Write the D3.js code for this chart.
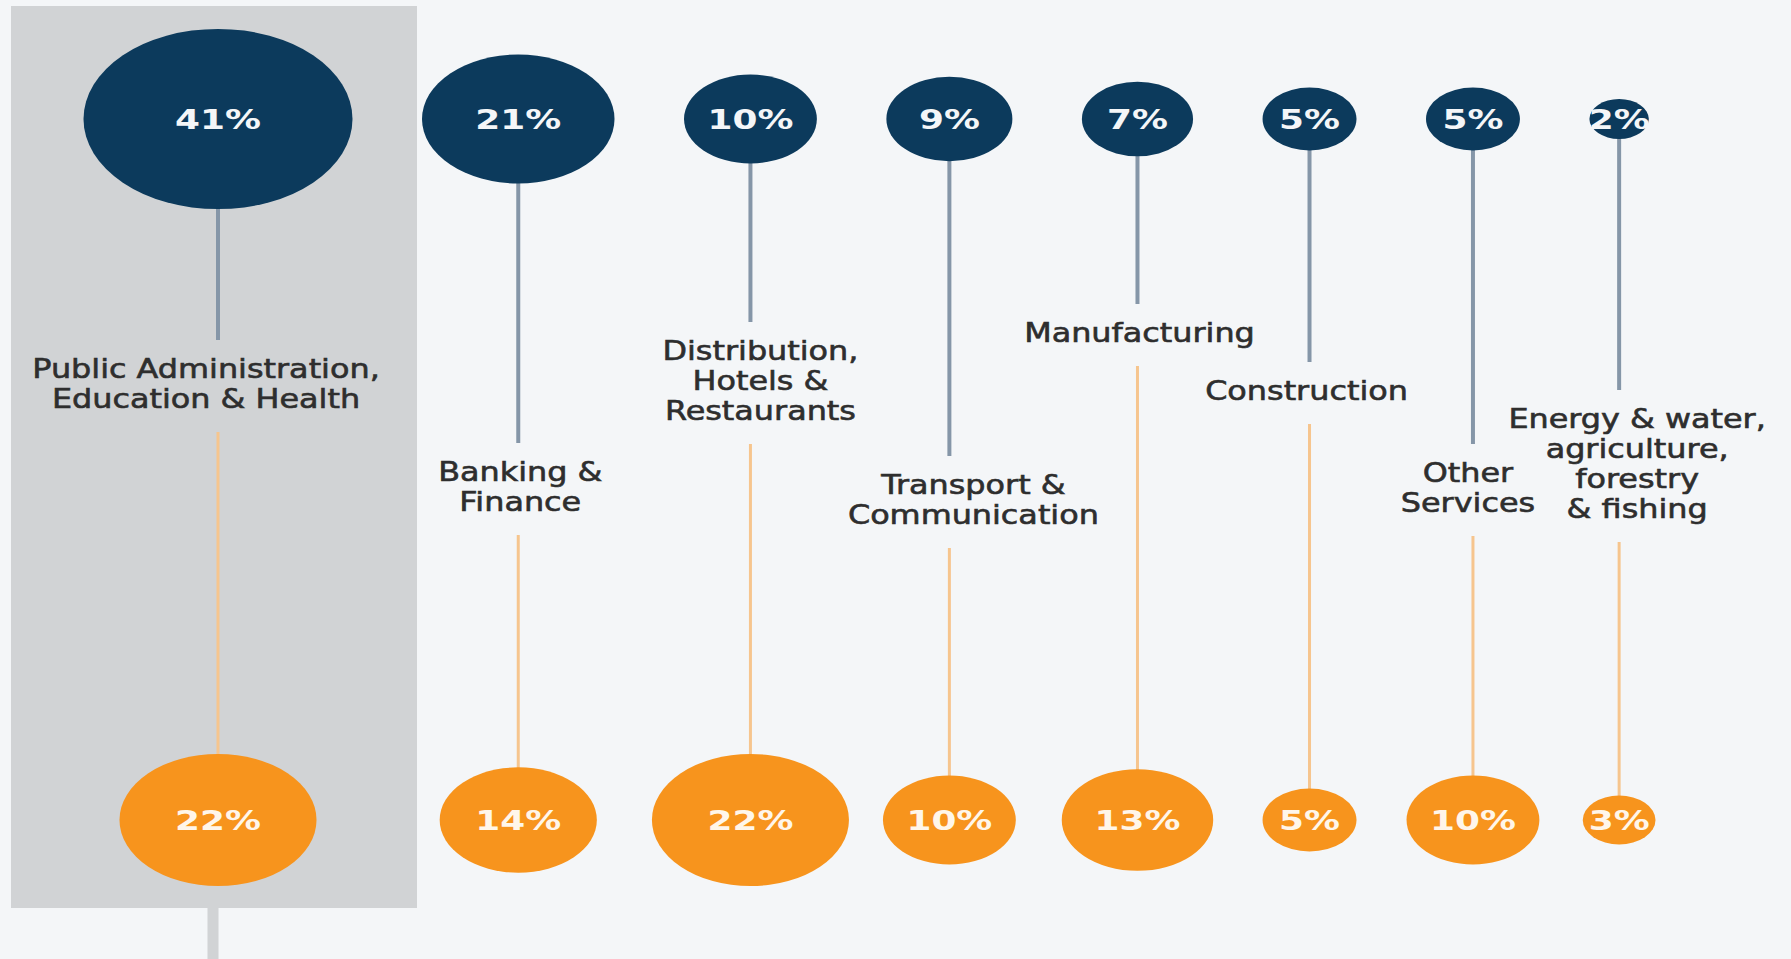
<!DOCTYPE html>
<html>
<head>
<meta charset="utf-8">
<script src="https://d3js.org/d3.v7.min.js"></script>
<style>
html, body { margin: 0; padding: 0; background: #f4f6f8; overflow: hidden; }
.chart { width: 1791px; height: 959px; }
</style>
</head>
<body>
<div class="chart"></div>
<script>
// sectors, top row (navy) and bottom row (orange) shares in %
var sectors = [
	["Public Administration,", "Education & Health"],
	["Banking &", "Finance"],
	["Distribution,", "Hotels &", "Restaurants"],
	["Transport &", "Communication"],
	["Manufacturing"],
	["Construction"],
	["Other", "Services"],
	["Energy & water,", "agriculture,", "forestry", "& fishing"]
];
var topShare = [41, 21, 10, 9, 7, 5, 5, 2];
var bottomShare = [22, 14, 22, 10, 13, 5, 10, 3];

// layout: staggered label rows (y of first line centre) and small x nudges
var labelRow = [368, 471, 350, 484, 332, 390, 472, 418];
var labelNudge = [-12, 2, 10, 24, 2, -3, -5, 18];

var W = 1791, H = 959;
var topY = 119, bottomY = 820;
var aspect = 0.67;      // bubbles are squashed ellipses
var gap = 69.5;         // horizontal space between top bubbles
var lineH = 30;
var stretch = 1.18;     // the labels are drawn wide

var r = d3.scaleSqrt().domain([0, 41]).range([0, 134.5]);

// x positions: top bubbles packed side by side
var xs = [];
topShare.forEach(function(v, i){
	if (i == 0) xs.push(218);
	else xs.push(xs[i-1] + r(topShare[i-1]) + gap + r(v));
});

var data = sectors.map(function(s, i){
	return {lines: s, top: topShare[i], bottom: bottomShare[i], x: xs[i],
		ly: labelRow[i], lx: xs[i] + labelNudge[i]};
});

var svg = d3.select(".chart")
	.append("svg")
	.attr("width", W)
	.attr("height", H);

svg.append("rect")
	.attr("width", W).attr("height", H)
	.attr("fill", "#f4f6f8");

// highlight panel for the first sector
svg.append("rect")
	.attr("x", 11).attr("y", 6)
	.attr("width", 406).attr("height", 902)
	.attr("fill", "#d1d3d5");
svg.append("line")
	.attr("x1", 213).attr("x2", 213)
	.attr("y1", 908).attr("y2", H)
	.attr("stroke", "#d1d3d5")
	.attr("stroke-width", 11);

var col = svg.selectAll("g.col")
	.data(data)
	.enter()
	.append("g")
	.attr("class", "col");

// stems
col.append("line")
	.attr("x1", function(d){ return d.x; })
	.attr("x2", function(d){ return d.x; })
	.attr("y1", topY)
	.attr("y2", function(d){ return d.ly - 28; })
	.attr("stroke", "#8596a8")
	.attr("stroke-width", 4);
col.append("line")
	.attr("x1", function(d){ return d.x; })
	.attr("x2", function(d){ return d.x; })
	.attr("y1", function(d){ return d.ly + (d.lines.length - 1) * lineH + 34; })
	.attr("y2", bottomY)
	.attr("stroke", "#f6c58e")
	.attr("stroke-width", 3);

// bubbles
col.append("ellipse")
	.attr("cx", function(d){ return d.x; })
	.attr("cy", topY)
	.attr("rx", function(d){ return r(d.top); })
	.attr("ry", function(d){ return r(d.top) * aspect; })
	.attr("fill", "#0c3a5c");
col.append("ellipse")
	.attr("cx", function(d){ return d.x; })
	.attr("cy", bottomY)
	.attr("rx", function(d){ return r(d.bottom); })
	.attr("ry", function(d){ return r(d.bottom) * aspect; })
	.attr("fill", "#f7941d");

// percentages
col.append("text")
	.attr("transform", function(d){ return "translate(" + d.x + "," + (topY + 10) + ") scale(1.33,1)"; })
	.text(function(d){ return d.top + "%"; })
	.style("font-family", "'DejaVu Sans', Verdana, sans-serif")
	.style("font-weight", "bold")
	.style("font-size", "27px")
	.style("fill", "#f4f6f8")
	.style("text-anchor", "middle");
col.append("text")
	.attr("transform", function(d){ return "translate(" + d.x + "," + (bottomY + 10) + ") scale(1.33,1)"; })
	.text(function(d){ return d.bottom + "%"; })
	.style("font-family", "'DejaVu Sans', Verdana, sans-serif")
	.style("font-weight", "bold")
	.style("font-size", "27px")
	.style("fill", "#fff6ea")
	.style("text-anchor", "middle");

// sector names
col.each(function(d){
	var g = d3.select(this);
	d.lines.forEach(function(t, j){
		g.append("text")
			.attr("transform", "translate(" + d.lx + "," + (d.ly + 10 + j * lineH) + ") scale(" + stretch + ",1)")
			.text(t)
			.style("font-family", "'DejaVu Sans', Verdana, sans-serif")
			.style("font-size", "27px")
			.style("fill", "#2e2e2e")
			.style("stroke", "#2e2e2e")
			.style("stroke-width", "0.6px")
			.style("text-anchor", "middle");
	});
});
</script>
</body>
</html>
